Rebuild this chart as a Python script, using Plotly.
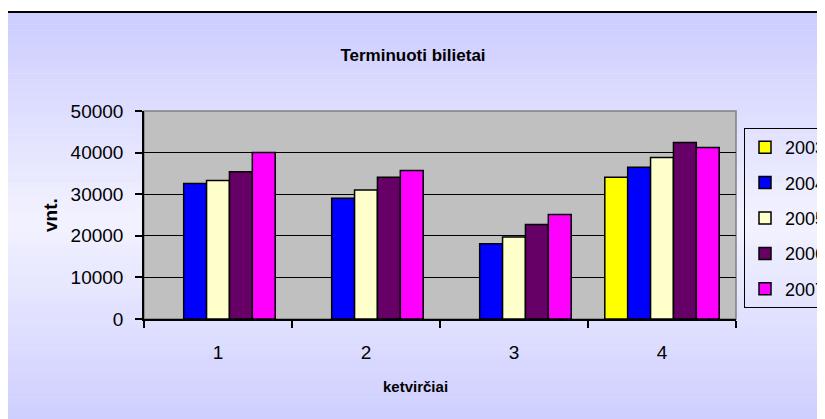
import plotly.graph_objects as go

# ---------------- data ----------------
quarters = ["1", "2", "3", "4"]
years = ["2003", "2004", "2005", "2006", "2007"]
v2003 = [None, None, None, 34100]
v2004 = [32600, 29000, 18100, 36500]
v2005 = [33300, 31000, 19700, 38800]
v2006 = [35400, 34100, 22700, 42400]
v2007 = [40000, 35700, 25100, 41200]
y_ticks = [0, 10000, 20000, 30000, 40000, 50000]
chart_title = "Terminuoti bilietai"
x_title = "ketvirčiai"
y_title = "vnt."

series = [v2003, v2004, v2005, v2006, v2007]
colors = ["#FFFF00", "#0000FF", "#FFFFCC", "#660066", "#FF00FF"]

# ---------------- layout geometry ----------------
# the page body adds an 8px offset; the figure is sized to compensate
OFF = 8
W, H = 825 - OFF, 419 - OFF
P_L, P_R, P_T, P_B = 144, 736, 111, 319   # plot box in window pixels
ML, MT = P_L - OFF, P_T - OFF
MR = W - (P_R - OFF)
MB = H - (P_B - OFF)
PW = P_R - P_L
PH = P_B - P_T


def px_x(px):
    return (px - P_L) / PW


def px_y(py):
    return (P_B - py) / PH


FONT = "Liberation Sans, Arial, sans-serif"

fig = go.Figure()
for name, vals, col in zip(years, series, colors):
    fig.add_trace(go.Bar(
        x=quarters, y=vals, name=name, legendgroup=name,
        marker=dict(color=col, line=dict(color="black", width=1.5)),
    ))

# gradient background of the chart frame (bands)
shapes = []
top, bot, mid = 12, 440, 222
N = 70
for i in range(N):
    y0 = top + (bot - top) * i / N
    y1 = top + (bot - top) * (i + 1) / N
    t = min(1.0, abs((y0 + y1) / 2 - mid) / (mid - top))
    c = round(242 - (242 - 204) * t)
    shapes.append(dict(type="rect", xref="paper", yref="paper", layer="below",
                       x0=px_x(7), x1=px_x(840), y0=px_y(y1 + 0.5), y1=px_y(y0),
                       fillcolor=f"rgb({c},{c},255)", line=dict(width=0)))
# frame border
shapes.append(dict(type="rect", xref="paper", yref="paper", layer="below",
                   x0=px_x(7), x1=px_x(840), y0=px_y(440), y1=px_y(12),
                   fillcolor="rgba(0,0,0,0)", line=dict(color="black", width=2)))
# plot area
shapes.append(dict(type="rect", xref="paper", yref="paper", layer="below",
                   x0=0, x1=1, y0=0, y1=1, fillcolor="#C0C0C0",
                   line=dict(color="#808080", width=1.5)))

fig.update_layout(
    width=W, height=H,
    margin=dict(l=ML, r=MR, t=MT, b=MB, autoexpand=False),
    paper_bgcolor="white",
    plot_bgcolor="rgba(0,0,0,0)",
    barmode="group", bargap=0.227, bargroupgap=0,
    shapes=shapes,
    showlegend=True,
    legend=dict(x=px_x(744), y=px_y(128), xanchor="left", yanchor="top",
                bgcolor="rgba(0,0,0,0)", bordercolor="black", borderwidth=1,
                font=dict(family=FONT, size=18, color="black"),
                tracegroupgap=9, itemwidth=30, traceorder="grouped"),
    title=dict(text=chart_title, x=px_x(413), xref="paper", xanchor="center",
               y=1 - (55 - OFF) / H, yanchor="middle",
               font=dict(family=FONT, size=17, color="black", weight="bold")),
    font=dict(family=FONT, size=19, color="black"),
)

fig.update_xaxes(type="category", tickson="boundaries", ticks="outside", ticklen=7,
                 tickwidth=1.5, tickcolor="black", showline=True, linecolor="black",
                 linewidth=1.5, showgrid=False, ticklabelstandoff=15,
                 tickfont=dict(family=FONT, size=19, color="black"))
fig.update_yaxes(range=[0, 50000], tickvals=y_ticks, tickformat="d", ticks="outside",
                 ticklen=7, tickwidth=1.5, tickcolor="black", showline=True,
                 linecolor="black", linewidth=1.5, showgrid=True, gridcolor="black",
                 gridwidth=1.2, zeroline=False, ticklabelstandoff=8,
                 tickfont=dict(family=FONT, size=19, color="black"))

fig.add_annotation(text=x_title, xref="paper", yref="paper", x=px_x(415), y=px_y(386),
                   showarrow=False, xanchor="center", yanchor="middle",
                   font=dict(family=FONT, size=15, color="black", weight="bold"))
fig.add_annotation(text=y_title, xref="paper", yref="paper", x=px_x(50), y=px_y(215),
                   showarrow=False, xanchor="center", yanchor="middle", textangle=-90,
                   font=dict(family=FONT, size=19, color="black", weight="bold"))

fig.write_html("out.html")
